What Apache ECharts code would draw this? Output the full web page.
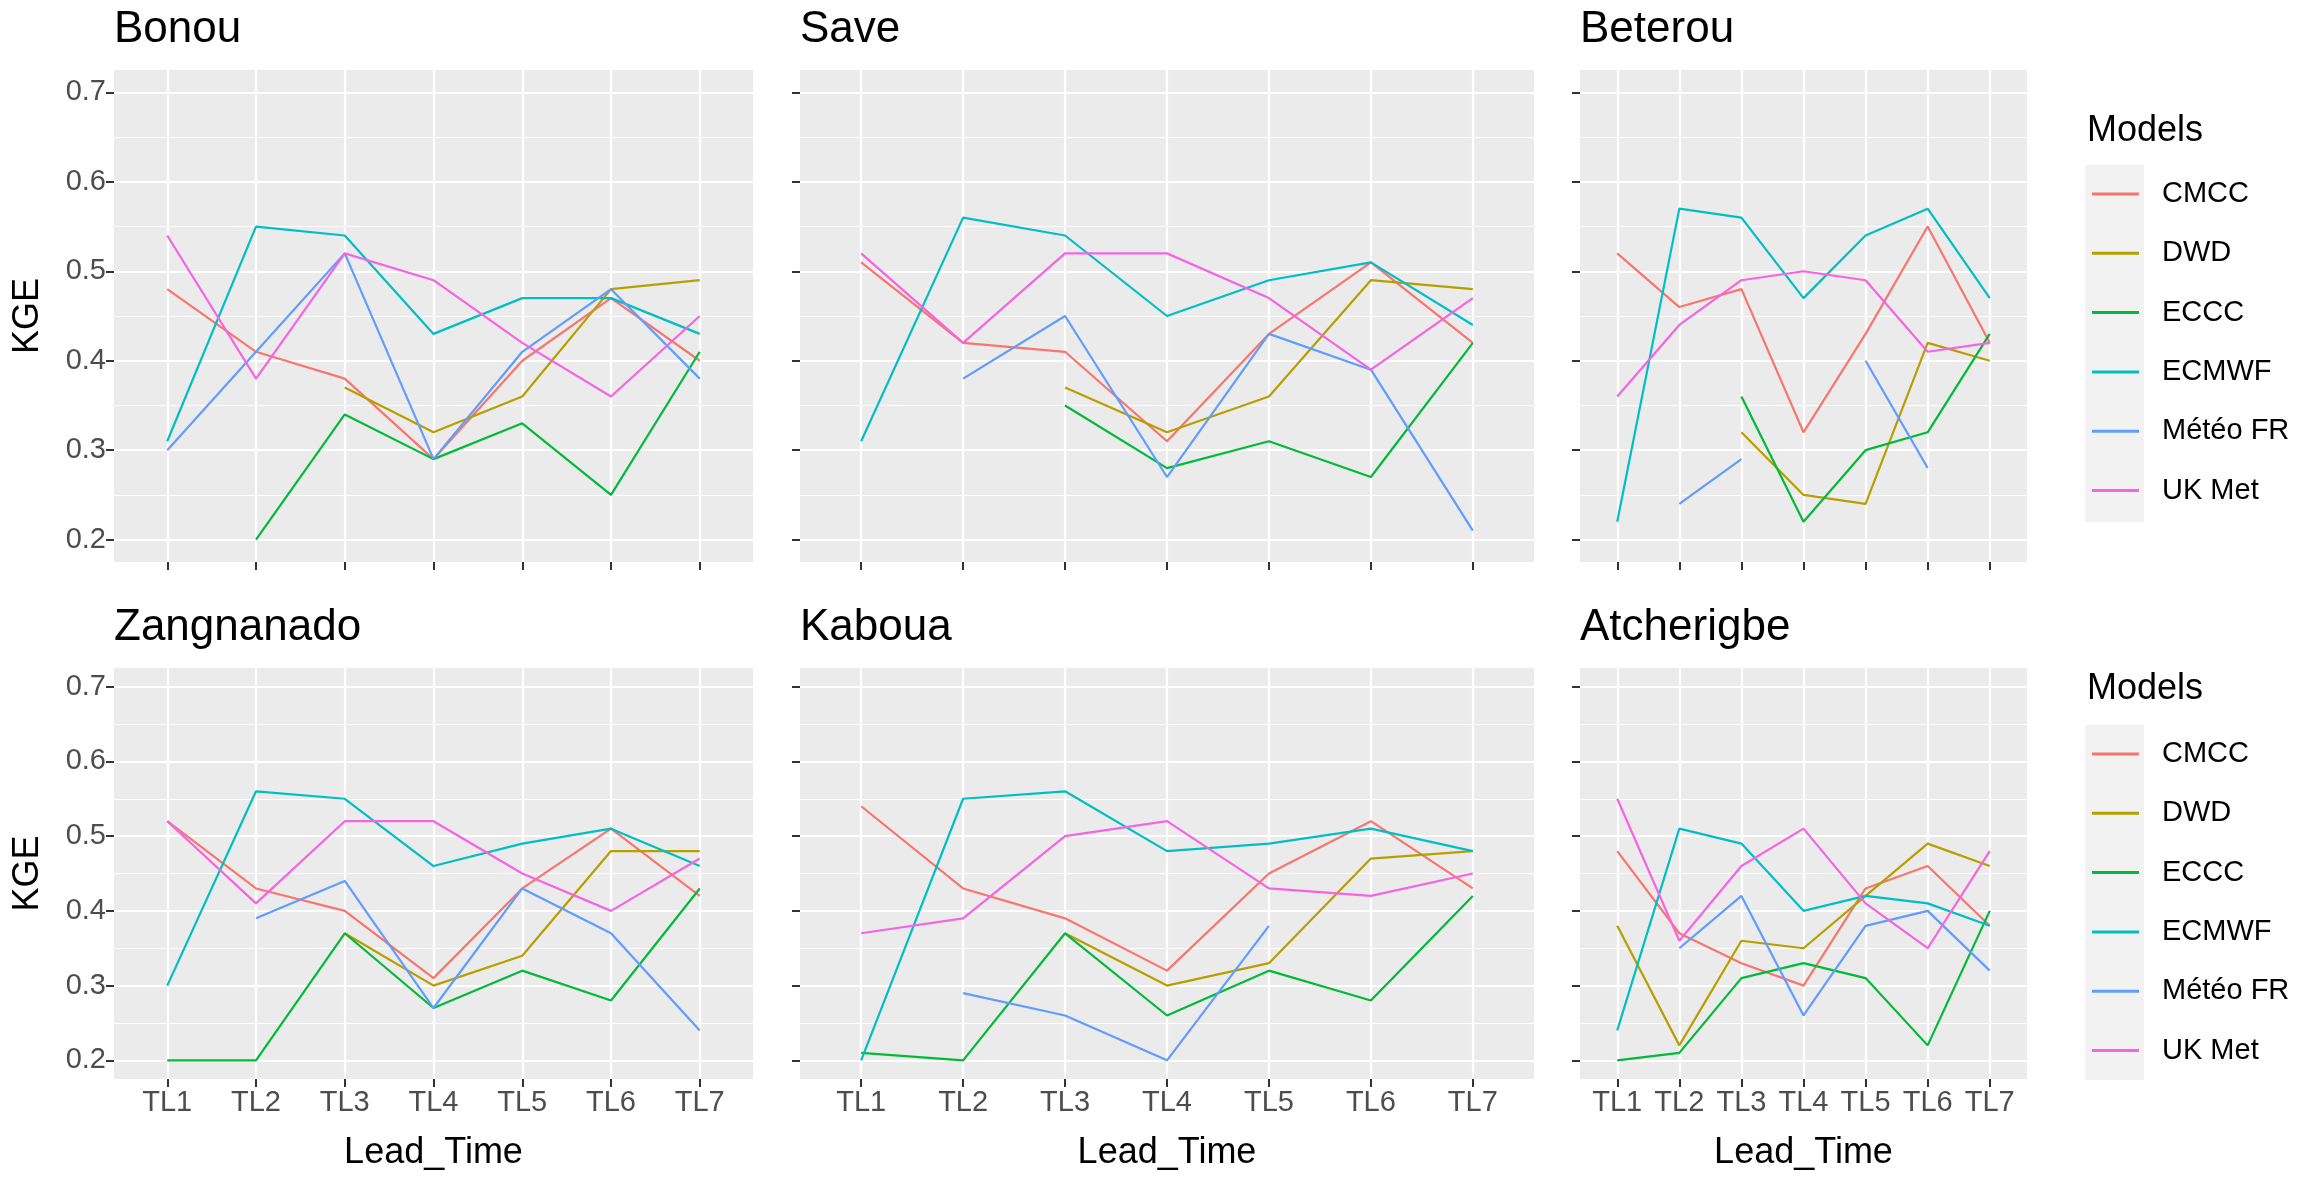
<!DOCTYPE html>
<html><head><meta charset="utf-8">
<script src="https://cdn.jsdelivr.net/npm/echarts@6/dist/echarts.min.js"></script>
<style>html,body{margin:0;padding:0;background:#fff}#c{width:2304px;height:1179px}</style>
</head><body><div id="c"></div><script>
const leadTimes = ['TL1','TL2','TL3','TL4','TL5','TL6','TL7'];
const models = ['CMCC','DWD','ECCC','ECMWF','Météo FR','UK Met'];
const modelColors = ['#F8766D','#B79F00','#00BA38','#00BFC4','#619CFF','#F564E3'];
const stations = ['Bonou','Save','Beterou','Zangnanado','Kaboua','Atcherigbe'];
const yTicks = [0.2,0.3,0.4,0.5,0.6,0.7];
const yMinorTicks = [0.25,0.35,0.45,0.55,0.65];

// values in model order: CMCC, DWD, ECCC, ECMWF, Météo FR, UK Met
const bonou = [
  [0.48,0.41,0.38,0.29,0.40,0.47,0.40],
  [null,null,0.37,0.32,0.36,0.48,0.49],
  [null,0.20,0.34,0.29,0.33,0.25,0.41],
  [0.31,0.55,0.54,0.43,0.47,0.47,0.43],
  [0.30,0.41,0.52,0.29,0.41,0.48,0.38],
  [0.54,0.38,0.52,0.49,0.42,0.36,0.45]
];
const save = [
  [0.51,0.42,0.41,0.31,0.43,0.51,0.42],
  [null,null,0.37,0.32,0.36,0.49,0.48],
  [null,null,0.35,0.28,0.31,0.27,0.42],
  [0.31,0.56,0.54,0.45,0.49,0.51,0.44],
  [null,0.38,0.45,0.27,0.43,0.39,0.21],
  [0.52,0.42,0.52,0.52,0.47,0.39,0.47]
];
const beterou = [
  [0.52,0.46,0.48,0.32,0.43,0.55,0.42],
  [null,null,0.32,0.25,0.24,0.42,0.40],
  [null,null,0.36,0.22,0.30,0.32,0.43],
  [0.22,0.57,0.56,0.47,0.54,0.57,0.47],
  [null,0.24,0.29,null,0.40,0.28,null],
  [0.36,0.44,0.49,0.50,0.49,0.41,0.42]
];
const zangnanado = [
  [0.52,0.43,0.40,0.31,0.43,0.51,0.42],
  [null,null,0.37,0.30,0.34,0.48,0.48],
  [0.20,0.20,0.37,0.27,0.32,0.28,0.43],
  [0.30,0.56,0.55,0.46,0.49,0.51,0.46],
  [null,0.39,0.44,0.27,0.43,0.37,0.24],
  [0.52,0.41,0.52,0.52,0.45,0.40,0.47]
];
const kaboua = [
  [0.54,0.43,0.39,0.32,0.45,0.52,0.43],
  [null,null,0.37,0.30,0.33,0.47,0.48],
  [0.21,0.20,0.37,0.26,0.32,0.28,0.42],
  [0.20,0.55,0.56,0.48,0.49,0.51,0.48],
  [null,0.29,0.26,0.20,0.38,null,null],
  [0.37,0.39,0.50,0.52,0.43,0.42,0.45]
];
const atcherigbe = [
  [0.48,0.37,0.33,0.30,0.43,0.46,0.38],
  [0.38,0.22,0.36,0.35,0.42,0.49,0.46],
  [0.20,0.21,0.31,0.33,0.31,0.22,0.40],
  [0.24,0.51,0.49,0.40,0.42,0.41,0.38],
  [null,0.35,0.42,0.26,0.38,0.40,0.32],
  [0.55,0.36,0.46,0.51,0.41,0.35,0.48]
];
const stationData = [bonou, save, beterou, zangnanado, kaboua, atcherigbe];

const FONT = '"Liberation Sans", Arial, sans-serif';
const cols = [{left:114,width:639},{left:800,width:734},{left:1580,width:447}];
const rows = [{top:70,height:492},{top:668,height:411}];
const xTickVals = leadTimes.map((t,i)=>i+1);

const grids = [], xAxes = [], yAxes = [], series = [], titles = [];
stations.forEach((st, p) => {
  const r = Math.floor(p/3), c = p%3;
  grids.push({left:cols[c].left, width:cols[c].width, top:rows[r].top, height:rows[r].height,
    show:true, backgroundColor:'#EBEBEB', borderWidth:0, containLabel:false, outerBoundsMode:'none'});
  xAxes.push({type:'value', gridIndex:p, min:0.4, max:7.6,
    axisLine:{show:false},
    axisTick:{show:true, length:8, customValues:xTickVals, lineStyle:{color:'#333333', width:2}},
    axisLabel:{show:r===1, customValues:xTickVals, hideOverlap:false,
      formatter:(v)=>leadTimes[Math.round(v)-1]||'', fontSize:29, color:'#4D4D4D', margin:9, fontFamily:FONT},
    splitLine:{show:true, customValues:xTickVals, lineStyle:{color:'#FFFFFF', width:2.2}},
    minorSplitLine:{show:false},
    name: r===1 ? 'Lead_Time' : '', nameLocation:'middle', nameGap:56,
    nameTextStyle:{fontSize:36, color:'#000000', fontFamily:FONT}
  });
  yAxes.push({type:'value', gridIndex:p, min:0.175, max:0.725,
    axisLine:{show:false},
    axisTick:{show:true, length:8, customValues:yTicks, lineStyle:{color:'#333333', width:2}},
    axisLabel:{show:c===0, customValues:yTicks, formatter:(v)=>v.toFixed(1),
      fontSize:29, color:'#4D4D4D', margin:8, fontFamily:FONT},
    splitLine:{show:true, customValues:yTicks, lineStyle:{color:'#FFFFFF', width:2.2}},
    name: c===0 ? 'KGE' : '', nameLocation:'middle', nameRotate:90, nameGap:68,
    nameTextStyle:{fontSize:36, color:'#000000', fontFamily:FONT}
  });
  yAxes.push({type:'value', gridIndex:p, min:0.175, max:0.725, position:'left',
    axisLine:{show:false},
    axisTick:{show:false, customValues:yMinorTicks},
    axisLabel:{show:false, customValues:yMinorTicks},
    splitLine:{show:true, customValues:yMinorTicks, lineStyle:{color:'#FFFFFF', width:1.1}}
  });
  titles.push({text:st, left:cols[c].left, top:rows[r].top-62, padding:0,
    textStyle:{fontSize:44, fontWeight:'normal', color:'#000000', fontFamily:FONT}});
  stationData[p].forEach((vals, m) => {
    series.push({type:'line', name:models[m], xAxisIndex:p, yAxisIndex:2*p,
      data: vals.map((v,i)=>[i+1, v==null ? '-' : v]),
      showSymbol:false, symbol:'none', connectNulls:false, silent:true,
      lineStyle:{width:2.2, color:modelColors[m]}, itemStyle:{color:modelColors[m]},
      z: 3 + m});
  });
});

const legendTops = [174, 734];
const legends = legendTops.map(t => ({
  orient:'vertical', left:2092, top:t, padding:0, itemWidth:47, itemHeight:3, itemGap:19.3,
  icon:'rect', selectedMode:false, data:models,
  textStyle:{fontSize:29, color:'#000000', fontFamily:FONT, lineHeight:40, padding:[0,0,0,18]}
}));
titles.push({text:'Models', left:2087, top:113, padding:0,
  textStyle:{fontSize:36, fontWeight:'normal', color:'#000000', fontFamily:FONT}});
titles.push({text:'Models', left:2087, top:671, padding:0,
  textStyle:{fontSize:36, fontWeight:'normal', color:'#000000', fontFamily:FONT}});

const chart = echarts.init(document.getElementById('c'), null, {renderer:'canvas'});
chart.setOption({
  animation:false,
  backgroundColor:'#FFFFFF',
  color: modelColors,
  title: titles,
  legend: legends,
  grid: grids,
  xAxis: xAxes,
  yAxis: yAxes,
  series: series,
  graphic: [
    {type:'rect', shape:{x:2085, y:165, width:59, height:357}, style:{fill:'#F2F2F2'}, z:-1, silent:true},
    {type:'rect', shape:{x:2085, y:725, width:59, height:355}, style:{fill:'#F2F2F2'}, z:-1, silent:true}
  ]
});
</script></body></html>
